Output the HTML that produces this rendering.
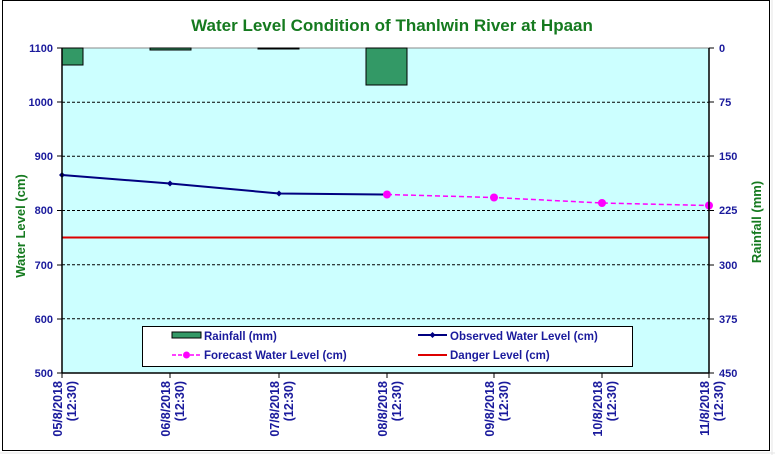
<!DOCTYPE html>
<html><head><meta charset="utf-8"><style>
html,body{margin:0;padding:0;background:#fff;}
svg{display:block;font-family:"Liberation Sans",Arial,sans-serif;font-weight:bold;}
</style></head><body>
<svg width="775" height="455" viewBox="0 0 775 455" xmlns="http://www.w3.org/2000/svg">
<rect x="0" y="0" width="775" height="455" fill="#fff"/>
<g stroke="#e4e4e4" stroke-width="1">
<line x1="772" y1="0" x2="772" y2="455"/>
<line x1="0" y1="453" x2="775" y2="453"/>
</g>
<rect x="2.5" y="0.5" width="767" height="450" fill="#fff" stroke="#000" stroke-width="1"/>
<text x="392" y="31" text-anchor="middle" font-size="17" fill="#157a1f">Water Level Condition of Thanlwin  River at  Hpaan</text>
<rect x="62" y="48" width="647" height="325" fill="#ccffff"/>
<g stroke="#000" stroke-width="1" stroke-dasharray="3,2">
<line x1="62" y1="102.2" x2="709" y2="102.2"/>
<line x1="62" y1="156.3" x2="709" y2="156.3"/>
<line x1="62" y1="210.5" x2="709" y2="210.5"/>
<line x1="62" y1="264.7" x2="709" y2="264.7"/>
<line x1="62" y1="318.8" x2="709" y2="318.8"/>
</g>
<line x1="62" y1="48" x2="709" y2="48" stroke="#888" stroke-width="1"/>
<g fill="#339966" stroke="#000" stroke-width="1">
<rect x="62" y="48" width="21" height="17"/>
<rect x="150" y="48" width="41" height="2"/>
<rect x="258" y="48" width="41" height="1"/>
<rect x="366" y="48" width="41" height="37"/>
</g>
<line x1="62" y1="237.5" x2="709" y2="237.5" stroke="#dd0000" stroke-width="2"/>
<polyline points="62,175 170,183.5 279,193.5 387,194.5" fill="none" stroke="#000080" stroke-width="2"/>
<g fill="#000080">
<path d="M62,172 l3,3 -3,3 -3,-3z"/><path d="M170,180.5 l3,3 -3,3 -3,-3z"/><path d="M279,190.5 l3,3 -3,3 -3,-3z"/>
</g>
<polyline points="387,194.5 494,197.5 602,203 709,205.5" fill="none" stroke="#ff00ff" stroke-width="1.5" stroke-dasharray="5,3"/>
<g fill="#ff00ff">
<circle cx="387" cy="194.5" r="4"/><circle cx="494" cy="197.5" r="4"/><circle cx="602" cy="203" r="4"/><circle cx="709" cy="205.5" r="4"/>
</g>
<g stroke="#000" stroke-width="1.5" fill="none">
<line x1="62" y1="48" x2="62" y2="373"/>
<line x1="709" y1="48" x2="709" y2="373"/>
<line x1="62" y1="373" x2="709" y2="373"/>
</g>
<g stroke="#000" stroke-width="1">
<line x1="57" y1="48" x2="62" y2="48"/><line x1="57" y1="102" x2="62" y2="102"/><line x1="57" y1="156" x2="62" y2="156"/><line x1="57" y1="210.5" x2="62" y2="210.5"/><line x1="57" y1="265" x2="62" y2="265"/><line x1="57" y1="319" x2="62" y2="319"/><line x1="57" y1="373" x2="62" y2="373"/>
<line x1="709" y1="48" x2="714" y2="48"/><line x1="709" y1="102" x2="714" y2="102"/><line x1="709" y1="156" x2="714" y2="156"/><line x1="709" y1="210.5" x2="714" y2="210.5"/><line x1="709" y1="265" x2="714" y2="265"/><line x1="709" y1="319" x2="714" y2="319"/><line x1="709" y1="373" x2="714" y2="373"/>
<line x1="62" y1="373" x2="62" y2="378"/><line x1="170" y1="373" x2="170" y2="378"/><line x1="279" y1="373" x2="279" y2="378"/><line x1="387" y1="373" x2="387" y2="378"/><line x1="494" y1="373" x2="494" y2="378"/><line x1="602" y1="373" x2="602" y2="378"/><line x1="709" y1="373" x2="709" y2="378"/>
</g>
<g font-size="11" fill="#1a1a9c" text-anchor="end">
<text x="53" y="52">1100</text><text x="53" y="106">1000</text><text x="53" y="160">900</text><text x="53" y="214">800</text><text x="53" y="269">700</text><text x="53" y="323">600</text><text x="53" y="377">500</text>
</g>
<g font-size="11" fill="#1a1a9c">
<text x="719" y="52">0</text><text x="719" y="106">75</text><text x="719" y="160">150</text><text x="719" y="214">225</text><text x="719" y="269">300</text><text x="719" y="323">375</text><text x="719" y="377">450</text>
</g>
<text transform="translate(25,226) rotate(-90)" text-anchor="middle" font-size="13" fill="#157a1f">Water Level (cm)</text>
<text transform="translate(761,222) rotate(-90)" text-anchor="middle" font-size="13" fill="#157a1f">Rainfall (mm)</text>
<g font-size="12.5" fill="#1a1a9c" text-anchor="end">
<g transform="translate(62,381) rotate(-90)"><text x="0" y="0">05/8/2018</text><text x="0" y="14">(12:30)</text></g>
<g transform="translate(170,381) rotate(-90)"><text x="0" y="0">06/8/2018</text><text x="0" y="14">(12:30)</text></g>
<g transform="translate(279,381) rotate(-90)"><text x="0" y="0">07/8/2018</text><text x="0" y="14">(12:30)</text></g>
<g transform="translate(387,381) rotate(-90)"><text x="0" y="0">08/8/2018</text><text x="0" y="14">(12:30)</text></g>
<g transform="translate(494,381) rotate(-90)"><text x="0" y="0">09/8/2018</text><text x="0" y="14">(12:30)</text></g>
<g transform="translate(602,381) rotate(-90)"><text x="0" y="0">10/8/2018</text><text x="0" y="14">(12:30)</text></g>
<g transform="translate(709,381) rotate(-90)"><text x="0" y="0">11/8/2018</text><text x="0" y="14">(12:30)</text></g>
</g>
<rect x="142.5" y="326.5" width="490" height="40" fill="#fff" stroke="#000" stroke-width="1"/>
<rect x="172" y="332" width="29" height="6" fill="#339966" stroke="#000" stroke-width="1"/>
<text x="204" y="340" font-size="11.5" fill="#1a1a9c">Rainfall (mm)</text>
<line x1="172" y1="355" x2="201" y2="355" stroke="#ff00ff" stroke-width="1.5" stroke-dasharray="4,2"/>
<circle cx="186.5" cy="355" r="3.5" fill="#ff00ff"/>
<text x="204" y="359" font-size="11.5" fill="#1a1a9c">Forecast Water Level (cm)</text>
<line x1="418" y1="335" x2="447" y2="335" stroke="#000080" stroke-width="2"/>
<path d="M432.5,332 l3,3 -3,3 -3,-3z" fill="#000080"/>
<text x="450" y="340" font-size="11.5" fill="#1a1a9c">Observed Water Level (cm)</text>
<line x1="418" y1="355" x2="447" y2="355" stroke="#dd0000" stroke-width="2"/>
<text x="450" y="359" font-size="11.5" fill="#1a1a9c">Danger Level (cm)</text>
</svg>
</body></html>
